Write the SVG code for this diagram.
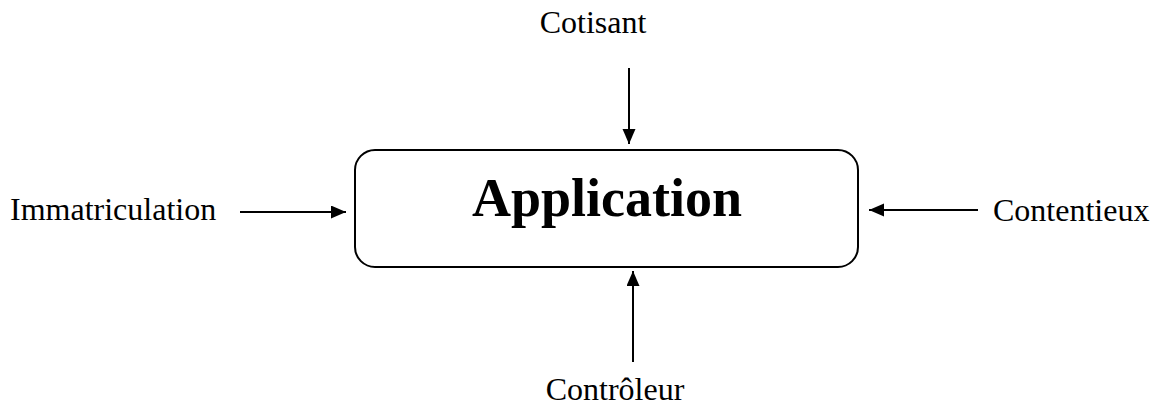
<svg xmlns="http://www.w3.org/2000/svg" width="1158" height="405" viewBox="0 0 1158 405">
<defs>
<marker id="ah" markerWidth="16" markerHeight="14" refX="15" refY="6.5" orient="auto" markerUnits="userSpaceOnUse"><path d="M0,0 L15,6.5 L0,13 Z" fill="#000"/></marker>
</defs>
<style>
.lbl{font-family:"Liberation Serif",serif;font-size:32px;fill:#000}
.title{font-family:"Liberation Serif",serif;font-size:54px;font-weight:bold;fill:#000}
.con{stroke:#000;stroke-width:2;fill:none;marker-end:url(#ah)}
</style>
<rect width="1158" height="405" fill="#fff"/>
<g id="application">
<rect x="355" y="150" width="503" height="117" rx="20" ry="20" fill="#fff" stroke="#000" stroke-width="2"/>
<text class="title" x="607" y="216" text-anchor="middle">Application</text>
</g>
<g id="cotisant"><text class="lbl" x="593" y="33" text-anchor="middle">Cotisant</text></g>
<g id="immatriculation"><text class="lbl" x="10" y="220">Immatriculation</text></g>
<g id="contentieux"><text class="lbl" x="993" y="221">Contentieux</text></g>
<g id="controleur"><text class="lbl" x="615" y="400" text-anchor="middle">Contrôleur</text></g>
<g id="connectors">
<line class="con" x1="629" y1="68" x2="629" y2="144"/>
<line class="con" x1="633" y1="362" x2="633" y2="271"/>
<line class="con" x1="240" y1="212" x2="346" y2="212"/>
<line class="con" x1="978" y1="210" x2="869" y2="210"/>
</g>
</svg>
